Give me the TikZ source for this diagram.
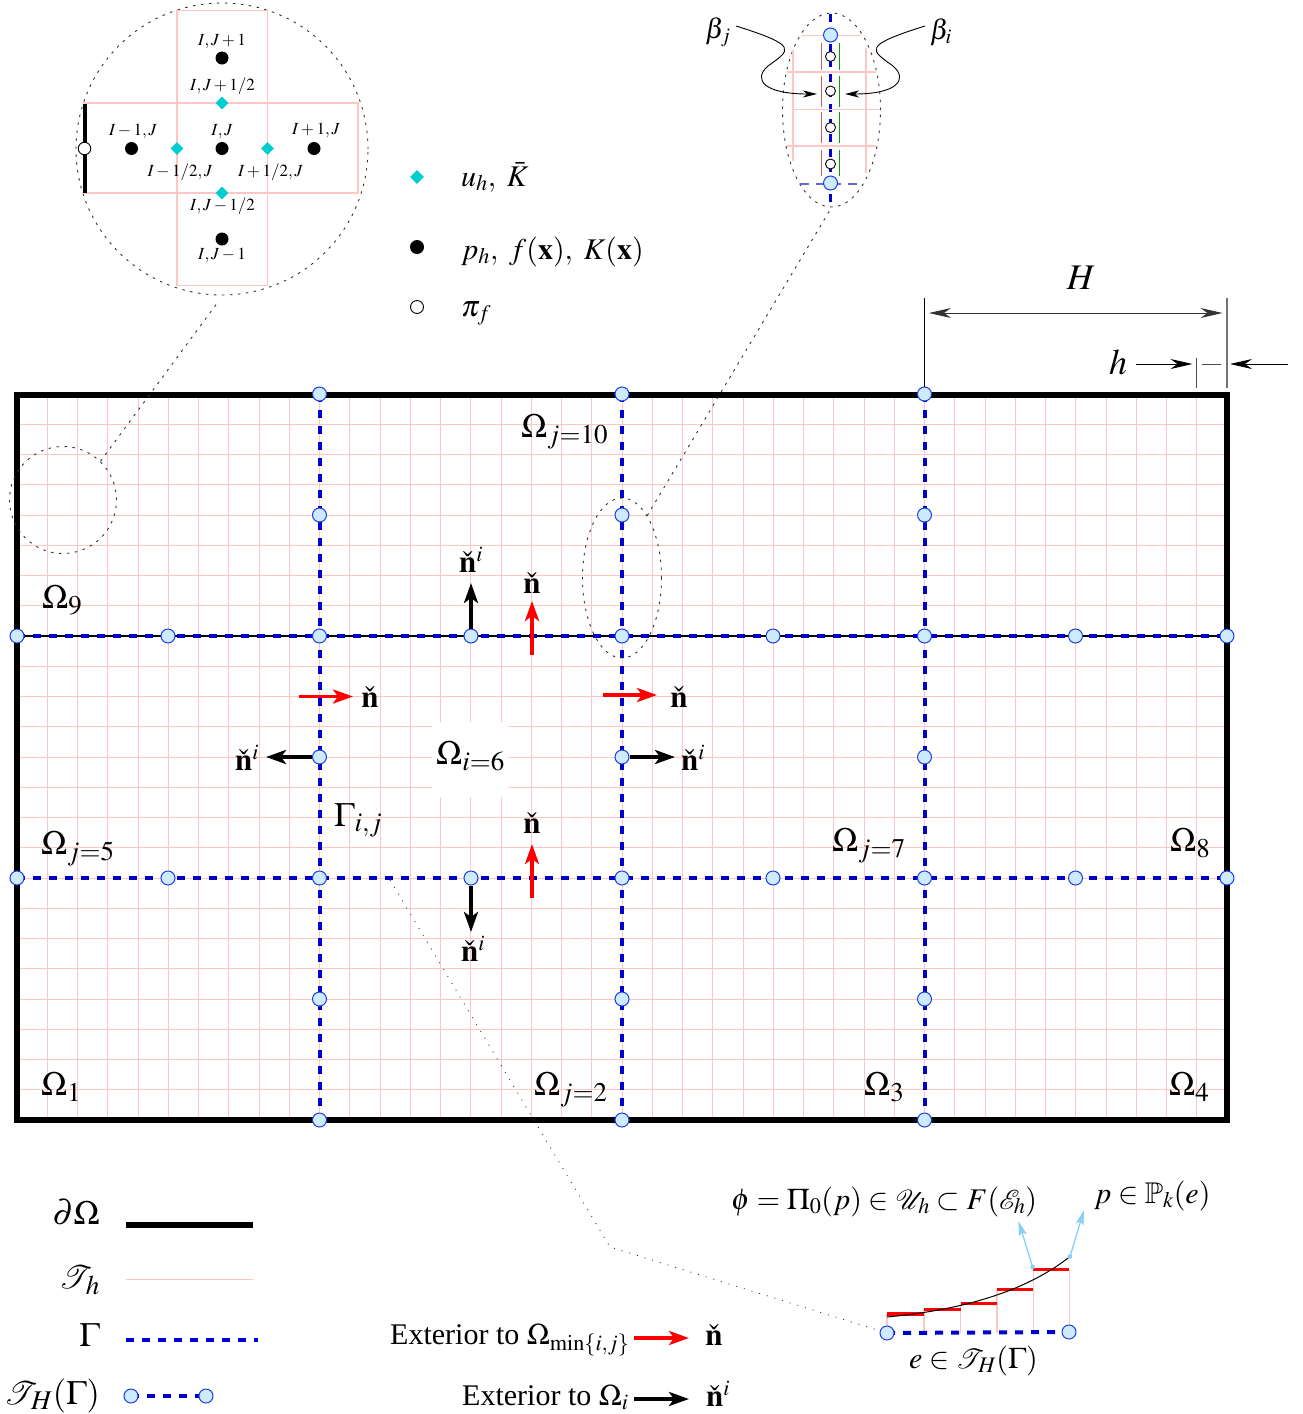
\documentclass[tikz,border=0pt]{standalone}
\usepackage{amssymb,mathrsfs,mathptmx}
\usepackage[no-math]{fontspec}
\setmainfont{Liberation Serif}
\usetikzlibrary{arrows.meta,backgrounds,shapes.geometric}
\DeclareMathSizes{34}{34}{27}{20}
\DeclareMathSizes{31}{31}{22}{16}
\newcommand{\bigscr}[2][1.1]{\scalebox{#1}{$\mathscr{#2}$}\mkern-3.5mu}
\definecolor{meshpink}{RGB}{255,198,198}
\definecolor{gblue}{RGB}{0,0,205}
\definecolor{nodefill}{RGB}{205,235,252}
\definecolor{nodeedge}{RGB}{30,60,230}
\definecolor{cyand}{RGB}{0,205,205}
\definecolor{skyb}{RGB}{135,206,250}
\definecolor{redl}{RGB}{205,92,92}
\definecolor{greenl}{RGB}{0,160,0}
\tikzset{
  x=1pt,y=-1pt,
  mesh/.style={draw=meshpink,line width=1pt},
  dmesh/.style={draw=meshpink,line width=1.4pt},
  gline/.style={draw=gblue,line width=4pt,dash pattern=on 8pt off 8pt},
  gnode/.style={circle,draw=nodeedge,fill=nodefill,line width=1pt,minimum size=14pt,inner sep=0},
  wnode/.style={circle,draw=black,fill=white,line width=.9pt,minimum size=10pt,inner sep=0},
  bnode/.style={circle,fill=black,minimum size=13pt,inner sep=0},
  dnode/.style={diamond,fill=cyand,minimum size=13pt,inner sep=0},
  dots/.style={draw=black!80,line width=.9pt,dash pattern=on 2.5pt off 5.5pt},
  sparse/.style={draw=black!80,line width=.8pt,dash pattern=on 1pt off 7pt},
  bigarrow/.style={line width=3.6pt,-{Stealth[length=20pt,width=14pt,inset=5pt]}},
  dimarrow/.style={draw=black,line width=1pt,-{Stealth[length=22pt,width=10pt,inset=7pt]}},
  lab/.style={font=\fontsize{34}{38}\selectfont,inner sep=0,anchor=base west},
  leg/.style={font=\fontsize{30}{36}\selectfont,inner sep=0},
  nlab/.style={font=\fontsize{31}{34}\selectfont,inner sep=0},
  tiny lab/.style={font=\fontsize{17}{20}\selectfont,inner sep=0},
}
\begin{document}
\begin{tikzpicture}
\useasboundingbox (0,0) rectangle (1302,1414);

% interface nodes
\foreach \n/\px in {a/17,b/168,c/319.5,d/471,e/622,f/773,g/924.5,h/1075.5,k/1227}{
  \node[gnode] (up\n) at (\px,636) {};
  \node[gnode] (lo\n) at (\px,878) {};
}
\foreach \n/\px in {c/319.5,e/622,g/924.5}{
  \node[gnode] (top\n) at (\px,394) {};
  \node[gnode] (a\n) at (\px,515) {};
  \node[gnode] (m\n) at (\px,757) {};
  \node[gnode] (z\n) at (\px,999) {};
  \node[gnode] (bot\n) at (\px,1120) {};
}
\begin{pgfonlayer}{background}
  \foreach \k in {1,...,39}{ \draw[mesh] ({17+30.25*\k},394) -- ({17+30.25*\k},1120); }
  \foreach \k in {1,...,23}{ \draw[mesh] (17,{394+30.25*\k}) -- (1227,{394+30.25*\k}); }
  \fill[white,rounded corners=6pt] (432,722) rectangle (508,797);
  \draw[black,line width=1.2pt] (upa.center) -- (upk.center);
  \draw[gline] (upa.center) -- (upk.center);
  \draw[gline] (loa.center) -- (lok.center);
  \foreach \n in {c,e,g}{ \draw[gline] (top\n.center) -- (bot\n.center); }
  \draw[black,line width=6pt] (17,394.5) rectangle (1227,1120);
\end{pgfonlayer}

% labels inside domain
\node[lab] (o10) at (521,437) {$\Omega_{j=10}$};
\node[lab] (o9) at (42,608) {$\Omega_{9}$};
\node[lab] (o6) at (436,764) {$\Omega_{i=6}$};
\node[lab] (gij) at (334,826) {$\Gamma_{i,j}$};
\node[lab] (o5) at (41,854) {$\Omega_{j=5}$};
\node[lab] (o7) at (832,851) {$\Omega_{j=7}$};
\node[lab] (o8) at (1170,851) {$\Omega_{8}$};
\node[lab] (o1) at (41,1095) {$\Omega_{1}$};
\node[lab] (o2) at (534,1095) {$\Omega_{j=2}$};
\node[lab] (o3) at (864,1095) {$\Omega_{3}$};
\node[lab] (o4) at (1169,1095) {$\Omega_{4}$};

% normals
\coordinate (r1a) at (532,655); \coordinate (r1b) at (532,601);
\coordinate (r2a) at (532,898); \coordinate (r2b) at (532,844);
\coordinate (r3a) at (299,696.5); \coordinate (r3b) at (353,696.5);
\coordinate (r4a) at (603,695); \coordinate (r4b) at (657,695);
\draw[bigarrow,red] (r1a) -- (r1b);
\draw[bigarrow,red] (r2a) -- (r2b);
\draw[bigarrow,red] (r3a) -- (r3b);
\draw[bigarrow,red] (r4a) -- (r4b);
\coordinate (k1) at (471,583); \coordinate (k2) at (471,932);
\coordinate (k3) at (266,757); \coordinate (k4) at (675,757);
\draw[bigarrow] (upd) -- (k1);
\draw[bigarrow] (lod) -- (k2);
\draw[bigarrow] (mc) -- (k3);
\draw[bigarrow] (me) -- (k4);
\node[nlab] (n1) at (471,560) {$\check{\mathbf{n}}^{i}$};
\node[nlab] (n2) at (532,583) {$\check{\mathbf{n}}$};
\node[nlab] (n3) at (370,697) {$\check{\mathbf{n}}$};
\node[nlab] (n4) at (679,697) {$\check{\mathbf{n}}$};
\node[nlab] (n5) at (247,758) {$\check{\mathbf{n}}^{i}$};
\node[nlab] (n6) at (693,758) {$\check{\mathbf{n}}^{i}$};
\node[nlab] (n7) at (532,823) {$\check{\mathbf{n}}$};
\node[nlab] (n8) at (473,949) {$\check{\mathbf{n}}^{i}$};

% dotted zoom loci
\node[circle,dots,minimum size=107pt,inner sep=0] (zc) at (63,500) {};
\node[circle,dots,minimum size=292pt,inner sep=0] (zC) at (222,149) {};
\coordinate (zCend) at (218,302);
\draw[dots] (zc.46) -- (zCend);
\node[ellipse,dots,minimum width=79pt,minimum height=160pt,inner sep=0] (ze) at (622,578) {};
\node[ellipse,dots,minimum width=98pt,minimum height=194pt,inner sep=0] (zE) at (831.5,110) {};
\coordinate (zEend) at (830,210);
\draw[dots] (ze.68) -- (zEend);

% upper left detail
\draw[dmesh] (177,10.5) rectangle (267.5,285.5);
\draw[dmesh] (84,103) rectangle (358,193);
\draw[black,line width=4pt] (84.5,104) -- (84.5,193);
\node[circle,draw=black,fill=white,line width=.9pt,minimum size=12.5pt,inner sep=0] (hw) at (84.5,148.5) {};
\node[bnode] (ijn) at (222,58) {};
\node[bnode] (ijs) at (222,239) {};
\node[bnode] (ijw) at (131.5,148.5) {};
\node[bnode] (ijc) at (222,148.5) {};
\node[bnode] (ije) at (314,148.5) {};
\node[dnode] (dn) at (222,103) {};
\node[dnode] (ds) at (222,193) {};
\node[dnode] (dw) at (177,148.5) {};
\node[dnode] (de) at (267.5,148.5) {};
\node[tiny lab] (tl1) at (222,41.5) {$I,J+1$};
\node[tiny lab] (tl2) at (222.5,86.5) {$I,J+1/2$};
\node[tiny lab] (tl3) at (133,131.5) {$I-1,J$};
\node[tiny lab] (tl4) at (222,131.5) {$I,J$};
\node[tiny lab] (tl5) at (316,130.5) {$I+1,J$};
\node[tiny lab] (tl6) at (180,172) {$I-1/2,J$};
\node[tiny lab] (tl7) at (270.5,172) {$I+1/2,J$};
\node[tiny lab] (tl8) at (222.5,206.5) {$I,J-1/2$};
\node[tiny lab] (tl9) at (222,255) {$I,J-1$};

% upper middle legend
\node[dnode,minimum size=14pt] (lg1) at (417,177) {};
\node[bnode,minimum size=14pt] (lg2) at (417,247) {};
\node[circle,draw=black,fill=white,line width=.9pt,minimum size=13pt,inner sep=0] (lg3) at (417,307) {};
\node[leg,anchor=base west] (lgt1) at (461,186) {$u_h,\ \bar{K}$};
\node[leg,anchor=base west] (lgt2) at (461,259) {$p_h,\ f(\mathbf{x}),\ K(\mathbf{x})$};
\node[leg,anchor=base west] (lgt3) at (461,316) {$\pi_f$};

% upper right detail
\draw[dmesh] (802,35.5) -- (861,35.5);
\draw[dmesh] (787,72) -- (876,72);
\draw[dmesh] (793,109.5) -- (880,109.5);
\draw[dmesh] (787,146) -- (876,146);
\draw[dmesh] (793,50) -- (793,161);
\draw[dmesh] (866,48) -- (866,173);
\draw[gblue!60,line width=1.2pt,dash pattern=on 9pt off 7pt] (800,184) -- (863,184);
\node[gnode] (dt) at (830.5,35) {};
\node[gnode] (db) at (830.5,183) {};
\begin{pgfonlayer}{background}
  \coordinate (dtt) at (830.5,14); \coordinate (dbb) at (830.5,205);
  \draw[gblue,line width=2.4pt,dash pattern=on 8pt off 7pt] (dtt) -- (dbb);
\end{pgfonlayer}
\foreach \s/\ya/\yb in {1/43/70,2/76/107,3/112/143,4/150/176}{
  \draw[redl,line width=1.2pt] (821.7,\ya) -- (821.7,\yb);
  \draw[greenl,line width=1.2pt] (839.3,\ya) -- (839.3,\yb);
}
\node[wnode] (w1) at (830.5,56.5) {};
\node[wnode] (w2) at (830.5,91) {};
\node[wnode] (w3) at (830.5,127.5) {};
\node[wnode] (w4) at (830.5,164) {};
\node[leg,anchor=center,font=\fontsize{28}{32}\selectfont] (bj) at (718,32) {$\beta_j$};
\node[leg,anchor=center,font=\fontsize{28}{32}\selectfont] (bi) at (941,32) {$\beta_i$};
\coordinate (bjs) at (736,26); \coordinate (bjt) at (817,94);
\coordinate (bis) at (925,26); \coordinate (bit) at (845,94);
\draw[line width=.9pt,-{Stealth[length=14pt,width=7pt,inset=4pt]}] (bjs) .. controls (800,46) and (790,50) .. (768,66) .. controls (752,80) and (765,94) .. (bjt);
\draw[line width=.9pt,-{Stealth[length=14pt,width=7pt,inset=4pt]}] (bis) .. controls (861,46) and (871,50) .. (893,66) .. controls (909,80) and (896,94) .. (bit);

% dimensions
\coordinate (hl) at (924.5,298); \coordinate (hr) at (1227,298);
\coordinate (hre) at (1227,388); \coordinate (ht) at (1196.7,358); \coordinate (htb) at (1196.7,388);
\draw[black,line width=1pt] (hl) -- (topg);
\draw[black!55,line width=1.4pt] (hr) -- (hre);
\draw[black!70,line width=1pt] (ht) -- (htb);
\coordinate (ha) at (929,313); \coordinate (hb) at (1222.5,313);
\draw[draw=black!80,line width=1pt,{Stealth[length=22pt,width=10pt,inset=7pt]}-{Stealth[length=22pt,width=10pt,inset=7pt]}] (ha) -- (hb);
\node[lab,anchor=center,font=\fontsize{36}{40}\selectfont] (Hl) at (1081,278) {$H$};
\node[lab,anchor=center,font=\fontsize{36}{40}\selectfont] (hlab) at (1118,362) {$h$};
\coordinate (h1a) at (1136,364); \coordinate (h1b) at (1192.5,364);
\coordinate (h2a) at (1288,364); \coordinate (h2b) at (1230,364);
\draw[dimarrow] (h1a) -- (h1b);
\draw[dimarrow] (h2a) -- (h2b);
\draw[black!70,line width=1pt] (1202,364) -- (1221,364);

% lower left legend
\node[lab,anchor=base east] (l1) at (100,1224) {$\partial\Omega$};
\node[lab,anchor=base east] (l2) at (100,1288) {$\bigscr[1.3]{T}_h$};
\node[lab,anchor=base east] (l3) at (100,1346) {$\Gamma$};
\node[lab,anchor=base east] (l4) at (100,1404) {$\bigscr[1.3]{T}_H(\Gamma)$};
\coordinate (la) at (126,1225); \coordinate (lb) at (253,1225);
\coordinate (lc) at (126,1279.5); \coordinate (ld) at (253,1279.5);
\coordinate (le) at (126,1340); \coordinate (lf) at (258,1340);
\draw[black,line width=6pt] (la) -- (lb);
\draw[dmesh] (lc) -- (ld);
\draw[gline] (le) -- (lf);
\node[gnode] (lna) at (131,1396) {};
\node[gnode] (lnb) at (206,1396) {};
\begin{pgfonlayer}{background}
  \draw[gline] (lna.center) -- (lnb.center);
\end{pgfonlayer}

% exterior legend
\node[leg,anchor=base west] (ex1) at (390,1344) {Exterior to $\Omega_{\min\{i,j\}}$};
\node[leg,anchor=base west] (ex2) at (462,1405) {Exterior to $\Omega_{i}$};
\coordinate (xa) at (634,1338); \coordinate (xb) at (689,1338);
\coordinate (xc) at (634,1399); \coordinate (xd) at (689,1399);
\draw[bigarrow,red] (xa) -- (xb);
\draw[bigarrow] (xc) -- (xd);
\node[nlab] (xn1) at (714,1335) {$\check{\mathbf{n}}$};
\node[nlab] (xn2) at (718,1394) {$\check{\mathbf{n}}^{i}$};

% lower right detail
\node[gnode] (ea) at (887,1333) {};
\node[gnode] (eb) at (1069,1332) {};
\begin{pgfonlayer}{background}
  \draw[dmesh] (887,1333) -- (887,1314);
  \draw[dmesh] (923.8,1333) -- (923.8,1310);
  \draw[dmesh] (960.6,1333) -- (960.6,1304);
  \draw[dmesh] (997,1333) -- (997,1290);
  \draw[dmesh] (1033.2,1333) -- (1033.2,1270);
  \draw[dmesh] (1069.4,1333) -- (1069.4,1270);
  \draw[gline] (ea.center) -- (eb.center);
\end{pgfonlayer}
\foreach \xa/\xb/\yy in {887/923.8/1314,923.8/960.6/1309.5,960.6/997/1303.7,997/1033.2/1289.7,1033.2/1069.4/1269.3}{
  \draw[red,line width=3.5pt] (\xa,\yy) -- (\xb,\yy);
}
\coordinate (cs) at (887,1317); \coordinate (ce) at (1070,1256.5);
\draw[black,line width=1pt] (cs) .. controls (950,1311) and (1020,1296) .. (ce);
\coordinate (sa) at (1032.6,1267); \coordinate (sb) at (1018.5,1221);
\coordinate (sc) at (1070,1256.5); \coordinate (sd) at (1084,1210);
\fill[skyb] (sa) circle (2.3pt);
\fill[skyb] (sc) circle (2.3pt);
\draw[skyb,line width=1.3pt,-{Stealth[length=15pt,width=8pt,inset=3pt]}] (sa) -- (sb);
\draw[skyb,line width=1.3pt,-{Stealth[length=15pt,width=8pt,inset=3pt]}] (sc) -- (sd);
\node[leg,anchor=base west] (t1) at (731,1209) {$\phi=\Pi_0(p)\in\bigscr{U}_h\subset F(\bigscr{E}_h)$};
\node[leg,anchor=base west] (t2) at (1094,1203) {$p\in\mathbb{P}_k(e)$};
\node[leg,anchor=base west] (t3) at (909,1368) {$e\in\bigscr{T}_H(\Gamma)$};
\coordinate (spa) at (390,880); \coordinate (spb) at (610,1247);
\draw[sparse] (spa) -- (spb) -- (ea);
\end{tikzpicture}
\end{document}
